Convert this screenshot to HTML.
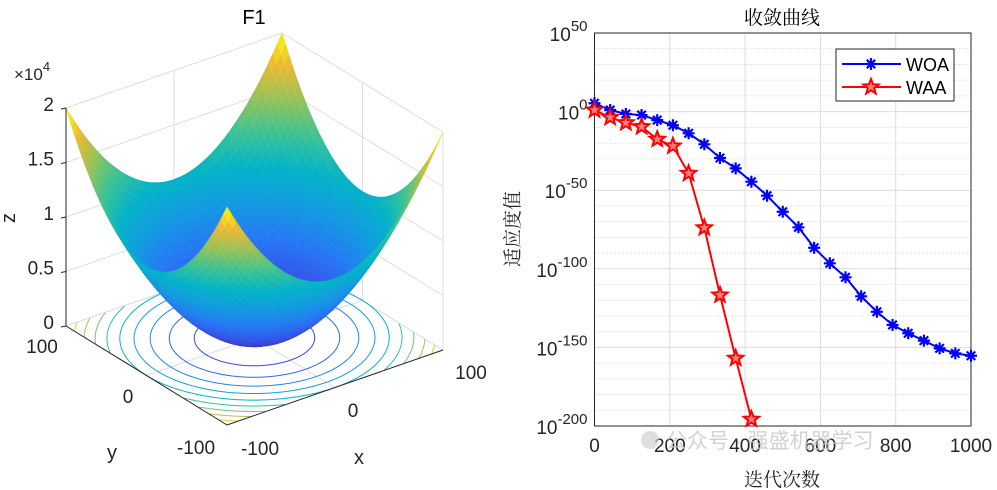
<!DOCTYPE html>
<html><head><meta charset="utf-8"><style>
html,body{margin:0;padding:0;background:#fff;}
svg{display:block;font-family:"Liberation Sans","Noto Sans CJK SC",sans-serif;}
</style></head><body>
<svg id="s" width="997" height="490" viewBox="0 0 997 490">
<g id="left"></g>
<g id="right"></g>
</svg>
<script>
const NS='http://www.w3.org/2000/svg';
function mk(p,tag,at,txt){const e=document.createElementNS(NS,tag);for(const k in at)e.setAttribute(k,at[k]);if(txt!==undefined)e.textContent=txt;p.appendChild(e);return e;}

// ---------- convergence data ----------
const iterTicks=[0,200,400,600,800,1000];
const logTicks=[50,0,-50,-100,-150,-200];
const woaIter=[0,41.7,83.3,125,166.7,208.3,250,291.7,333.3,375,416.7,458.3,500,541.7,583.3,625,666.7,708.3,750,791.7,833.3,875,916.7,958.3,1000];
const woaLog=[5.3,1.0,-1.5,-2.2,-5.4,-8.7,-13.8,-20.8,-29.5,-36.1,-44.6,-53.5,-63.7,-73.6,-86.6,-96.5,-105.4,-117.5,-127.3,-135.7,-141.0,-145.7,-150.6,-153.8,-155.3];
const waaIter=[0,41.7,83.3,125,166.7,208.3,250,291.7,333.3,375,416.7];
const waaLog=[1.0,-3.7,-7.1,-9.6,-17.6,-21.9,-39.3,-73.9,-116.7,-156.9,-195.7];

// ---------- surface data ----------
const zTicks=[0,5000,10000,15000,20000];
const zTickLabels=['0','0.5','1','1.5','2'];
const xyTicks=[-100,0,100];
const contourLevels=[2000,4000,6000,8000,10000,12000,14000,16000,18000];

(function(){
const g=document.getElementById('right');
const X0=594.5,X1=971,Y0=33,Y1=426;
const sx=v=>X0+(v-0)/1000*(X1-X0);
const sy=v=>Y0+(50-v)/250*(Y1-Y0);
mk(g,'rect',{x:X0,y:Y0,width:X1-X0,height:Y1-Y0,fill:'#fff'});
for(let d=40;d>-200;d-=10){ if(d%50===0)continue;
 const l=mk(g,'line',{x1:X0,x2:X1,y1:sy(d),y2:sy(d),stroke:'#d8d8d8','stroke-width':0.8,'stroke-dasharray':'2,2'});
 }
logTicks.forEach(t=>{const l=mk(g,'line',{x1:X0,x2:X1,y1:sy(t),y2:sy(t),stroke:'#dcdcdc','stroke-width':1});
 
 const tx=mk(g,'text',{x:X0-7,y:sy(t)+8,'text-anchor':'end','font-size':19,fill:'#262626'});
 
 mk(tx,'tspan',{},'10');mk(tx,'tspan',{dy:-10,'font-size':15},String(t));});
iterTicks.forEach(t=>{const l=mk(g,'line',{x1:sx(t),x2:sx(t),y1:Y0,y2:Y1,stroke:'#dcdcdc','stroke-width':1});
 
 const tx=mk(g,'text',{x:sx(t),y:Y1+26,'text-anchor':'middle','font-size':19,fill:'#262626'},String(t));
 });
const box=mk(g,'rect',{x:X0,y:Y0,width:X1-X0,height:Y1-Y0,fill:'none',stroke:'#262626','stroke-width':1});

function asterisk(p,x,y,c){const r=6;const pth=[];for(let i=0;i<4;i++){const a=i*Math.PI/4;pth.push(`M${x-r*Math.cos(a)},${y-r*Math.sin(a)}L${x+r*Math.cos(a)},${y+r*Math.sin(a)}`);}
 return mk(p,'path',{d:pth.join(''),stroke:c,'stroke-width':2.2,fill:'none'});}
function star(p,x,y,c){const pts=[];for(let i=0;i<10;i++){const r=i%2?3.4:8;const a=-Math.PI/2+i*Math.PI/5;pts.push((x+r*Math.cos(a)).toFixed(1)+','+(y+r*Math.sin(a)).toFixed(1));}
 return mk(p,'polygon',{points:pts.join(' '),fill:'#ff8080',stroke:c,'stroke-width':2});}
const clip=mk(g,'g',{});
const wl=mk(clip,'polyline',{points:woaIter.map((v,i)=>sx(v)+','+sy(woaLog[i])).join(' '),fill:'none',stroke:'#0000ff','stroke-width':2});

const rl=mk(clip,'polyline',{points:waaIter.map((v,i)=>sx(v)+','+sy(waaLog[i])).join(' '),fill:'none',stroke:'#ff0000','stroke-width':2});

woaIter.forEach((v,i)=>{const m=asterisk(clip,sx(v),sy(woaLog[i]),'#0000ff');
 });
waaIter.forEach((v,i)=>{const m=star(clip,sx(v),sy(waaLog[i]),'#ff0000');
 });
// legend
const lg=mk(g,'g',{});
mk(lg,'rect',{x:836,y:49,width:118,height:52,fill:'#fff',stroke:'#262626','stroke-width':1});
mk(lg,'line',{x1:842,x2:901,y1:64,y2:64,stroke:'#0000ff','stroke-width':2});asterisk(lg,871,64,'#0000ff');
const t1=mk(lg,'text',{x:906,y:71,'font-size':18,fill:'#000'},'WOA');
mk(lg,'line',{x1:842,x2:901,y1:87,y2:87,stroke:'#ff0000','stroke-width':2});star(lg,871,87,'#ff0000');
const t2=mk(lg,'text',{x:906,y:94,'font-size':18,fill:'#000'},'WAA');
const ti=mk(g,'text',{x:782,y:24,'text-anchor':'middle','font-size':19,fill:'#000','font-family':'"Noto Serif CJK SC",serif'},'收敛曲线');

const xl=mk(g,'text',{x:782,y:486,'text-anchor':'middle','font-size':19,fill:'#262626','font-family':'"Noto Serif CJK SC",serif'},'迭代次数');

const yl=mk(g,'text',{x:0,y:0,'text-anchor':'middle','font-size':19,fill:'#262626','font-family':'"Noto Serif CJK SC",serif',transform:'translate(519,229) rotate(-90)'},'适应度值');

const wmc=mk(g,'circle',{cx:650,cy:440,r:9,fill:'#d0d0d0',opacity:0.7});

const wm=mk(g,'text',{x:666,y:448,'font-size':21,fill:'#c8c8c8',opacity:0.8},'公众号 · 强盛机器学习');

})();

(function(){
const g=document.getElementById('left');
const O=[254.5,338], ex=[1.08,-0.375], ey=[-0.805,-0.495], ez=-218/20000;
const P=(x,y,z)=>[O[0]+x*ex[0]+y*ey[0], O[1]+x*ex[1]+y*ey[1]+z*ez];
const stops=[[0,[62,38,168]],[0.125,[55,80,230]],[0.25,[40,120,245]],[0.375,[20,155,225]],[0.5,[5,180,200]],[0.625,[60,195,150]],[0.75,[150,195,90]],[0.875,[235,185,55]],[1,[249,251,14]]];
function cmap(t){t=Math.max(0,Math.min(1,t));for(let i=1;i<stops.length;i++){if(t<=stops[i][0]){const a=stops[i-1],b=stops[i];const f=(t-a[0])/(b[0]-a[0]);return 'rgb('+a[1].map((v,k)=>Math.round(v+(b[1][k]-v)*f)).join(',')+')';}}return 'rgb(249,251,14)';}
const gl=(a,b)=>{const l=mk(g,'line',{x1:a[0],y1:a[1],x2:b[0],y2:b[1],stroke:'#dedede','stroke-width':1});};
zTicks.forEach(z=>{gl(P(-100,100,z),P(100,100,z));gl(P(100,100,z),P(100,-100,z));});
xyTicks.forEach(v=>{gl(P(v,100,0),P(v,100,20000));gl(P(100,v,0),P(100,v,20000));gl(P(v,-100,0),P(v,100,0));gl(P(-100,v,0),P(100,v,0));});
gl(P(100,-100,0),P(100,-100,20000));
contourLevels.forEach(L=>{const r=Math.sqrt(L);let seg=[];const segs=[];
 for(let i=0;i<=360;i++){const a=i*Math.PI/180;const x=r*Math.cos(a),y=r*Math.sin(a);
  if(Math.abs(x)<=100&&Math.abs(y)<=100){seg.push(P(x,y,0));}else{if(seg.length>1)segs.push(seg);seg=[];}}
 if(seg.length>1)segs.push(seg);
 segs.forEach(s=>{const pl=mk(g,'polyline',{points:s.map(p=>p[0].toFixed(1)+','+p[1].toFixed(1)).join(' '),fill:'none',stroke:cmap(L/20000),'stroke-width':1});
  });});
const N=48,f=(x,y)=>x*x+y*y;const quads=[];
for(let i=0;i<N;i++)for(let j=0;j<N;j++){const x0=-100+200*i/N,x1=-100+200*(i+1)/N,y0=-100+200*j/N,y1=-100+200*(j+1)/N;
 const cx=(x0+x1)/2,cy=(y0+y1)/2,cz=f(cx,cy);
 const near=0.866*(-0.609*cx/100-0.793*cy/100)+0.5*1.85*cz/20000;
 quads.push({near,pts:[P(x0,y0,f(x0,y0)),P(x1,y0,f(x1,y0)),P(x1,y1,f(x1,y1)),P(x0,y1,f(x0,y1))],c:cmap(cz/20000)});}
quads.sort((a,b)=>a.near-b.near);
const sg=mk(g,'g',{});
quads.forEach(q=>{mk(sg,'polygon',{points:q.pts.map(p=>p[0].toFixed(1)+','+p[1].toFixed(1)).join(' '),fill:q.c,stroke:q.c,'stroke-width':0.6});});
const ax=(a,b,n)=>{const l=mk(g,'line',{x1:a[0],y1:a[1],x2:b[0],y2:b[1],stroke:'#262626','stroke-width':1});};
ax(P(-100,100,0),P(-100,100,20000),'z-axis');ax(P(-100,-100,0),P(100,-100,0),'x-axis');ax(P(-100,100,0),P(-100,-100,0),'y-axis');
const T=(x,y,s,n,extra)=>{const t=mk(g,'text',Object.assign({x:x,y:y,'font-size':19,fill:'#262626','text-anchor':'middle'},extra||{}),s);return t;};
zTicks.forEach((z,i)=>{const p=P(-100,100,z);ax([p[0]-5,p[1]+1],p,'z-tick');T(p[0]-12,p[1]+3,zTickLabels[i],'z-tick-label',{'text-anchor':'end'});});
const xlab=[[260,455],[353,417],[471,379]],ylab=[[196,454],[128,403],[42,353]];
xyTicks.forEach((v,i)=>{T(xlab[i][0],xlab[i][1],String(v),'x-tick-label');T(ylab[i][0],ylab[i][1],String(v),'y-tick-label');});
T(254,24,'F1','chart-title',{fill:'#000','font-size':20});
T(359,464,'x','x-axis-title',{'font-size':20});T(112,459,'y','y-axis-title',{'font-size':20});
T(0,0,'z','z-axis-title',{transform:'translate(15,218) rotate(-90)','font-size':20});
const e=T(14,80,'','exponent-label',{'text-anchor':'start','font-size':17});mk(e,'tspan',{},'×10');mk(e,'tspan',{dy:-9,'font-size':13},'4');
})();
</script>
</body></html>
